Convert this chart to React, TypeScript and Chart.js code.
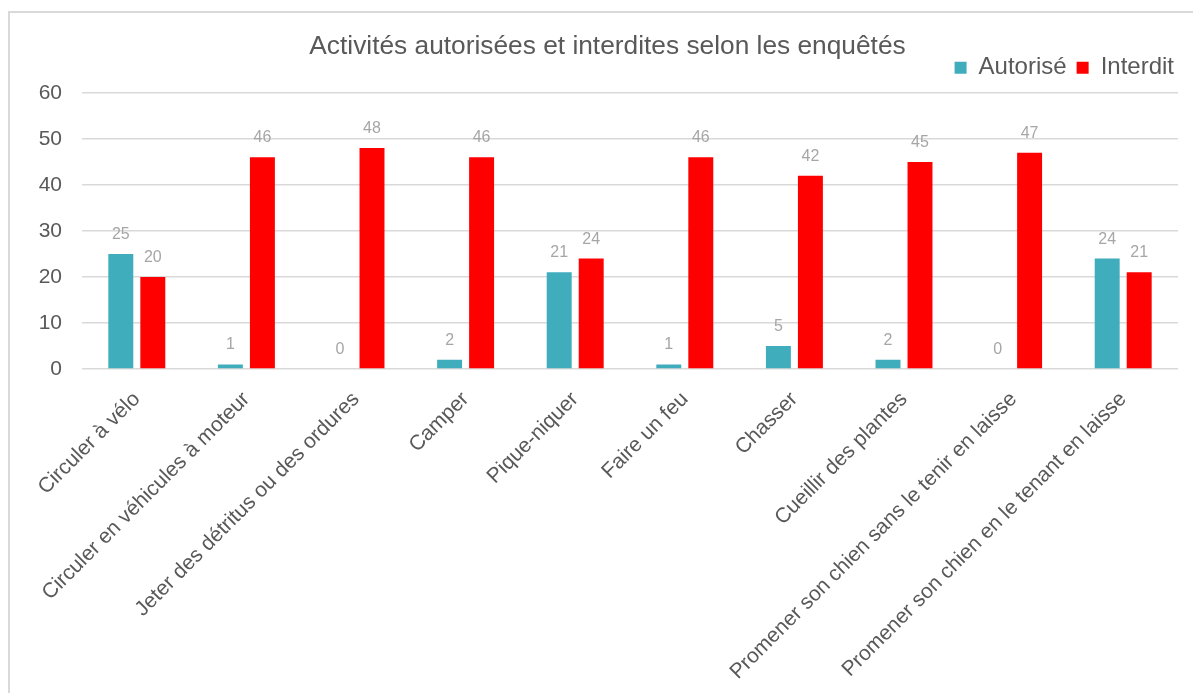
import React, { useEffect, useRef } from 'react';
import { Chart, registerables } from 'chart.js';

Chart.register(...registerables);

const chartTitle = 'Activités autorisées et interdites selon les enquêtés';
const categories = [
  'Circuler à vélo',
  'Circuler en véhicules à moteur',
  'Jeter des détritus ou des ordures',
  'Camper',
  'Pique-niquer',
  'Faire un feu',
  'Chasser',
  'Cueillir des plantes',
  'Promener son chien sans le tenir en laisse',
  'Promener son chien en le tenant en laisse',
];
const seriesNames = ['Autorisé', 'Interdit'];
const autorise = [25, 1, 0, 2, 21, 1, 5, 2, 0, 24];
const interdit = [20, 46, 48, 46, 24, 46, 42, 45, 47, 21];
const yTicks = [0, 10, 20, 30, 40, 50, 60];

const FONT = "'Liberation Sans', Arial, Helvetica, sans-serif";
const TEAL = '#40ADBD';
const RED = '#FF0000';
const TEXT = '#595959';
const GRID = '#d9d9d9';

const valueLabels = {
  id: 'valueLabels',
  afterDatasetsDraw(chart: any) {
    const ctx = chart.ctx;
    ctx.save();
    ctx.font = `16px ${FONT}`;
    ctx.fillStyle = '#a6a6a6';
    ctx.textAlign = 'center';
    ctx.textBaseline = 'alphabetic';
    chart.data.datasets.forEach((ds: any, i: number) => {
      const meta = chart.getDatasetMeta(i);
      meta.data.forEach((el: any, j: number) => {
        ctx.fillText(String(ds.data[j]), el.x, el.y - 15);
      });
    });
    ctx.restore();
  },
};

export default function App() {
  const ref = useRef<HTMLCanvasElement | null>(null);

  useEffect(() => {
    if (!ref.current) return;
    const chart = new Chart(ref.current, {
      type: 'bar',
      data: {
        labels: categories,
        datasets: [
          {
            label: seriesNames[0],
            data: autorise,
            backgroundColor: TEAL,
            borderWidth: 0,
            categoryPercentage: 0.584,
            barPercentage: 0.78,
          },
          {
            label: seriesNames[1],
            data: interdit,
            backgroundColor: RED,
            borderWidth: 0,
            categoryPercentage: 0.584,
            barPercentage: 0.78,
          },
        ],
      },
      options: {
        responsive: false,
        animation: false,
        layout: { padding: { top: 45.7, left: 31, right: 9, bottom: 0 } },
        plugins: {
          title: {
            display: true,
            text: chartTitle,
            color: TEXT,
            weight: 2000,
            font: { family: FONT, size: 26.3, weight: 'normal', lineHeight: 1.2 },
            padding: { top: -58.5, bottom: 30.1 },
          },
          legend: {
            display: true,
            position: 'top',
            align: 'end',
            weight: 3000,
            labels: {
              color: TEXT,
              font: { family: FONT, size: 24 },
              boxWidth: 12,
              boxHeight: 12,
              padding: 10,
            },
          },
          tooltip: { enabled: false },
        },
        scales: {
          x: {
            grid: { display: false, drawTicks: false },
            border: { display: false },
            ticks: {
              color: TEXT,
              font: { family: FONT, size: 21 },
              autoSkip: false,
              maxRotation: 45,
              minRotation: 45,
              padding: 18,
            },
            afterFit(scale: any) {
              scale.height = 324;
            },
          },
          y: {
            min: 0,
            max: 60,
            grid: { color: GRID, lineWidth: 1.5, drawTicks: false },
            border: { display: false },
            ticks: {
              color: TEXT,
              font: { family: FONT, size: 21 },
              padding: 20,
            },
            afterBuildTicks(scale: any) {
              scale.ticks = yTicks.map((v) => ({ value: v }));
            },
            afterFit(scale: any) {
              scale.width = 51;
            },
          },
          y2: {
            position: 'right',
            display: true,
            grid: { display: false, drawTicks: false },
            border: { display: false },
            ticks: { display: false },
            afterFit(scale: any) {
              scale.width = 6;
            },
          },
        },
      },
      plugins: [valueLabels],
    } as any);
    return () => chart.destroy();
  }, []);

  return (
    <div
      style={{
        position: 'fixed',
        left: 0,
        top: 0,
        width: 1193,
        height: 693,
        overflow: 'hidden',
        background: '#ffffff',
      }}
    >
      <div
        style={{
          position: 'absolute',
          left: 8,
          top: 11,
          width: 2000,
          height: 2000,
          borderLeft: `2px solid ${GRID}`,
          borderTop: `2px solid ${GRID}`,
        }}
      />
      <canvas
        ref={ref}
        width={1193}
        height={693}
        style={{ position: 'absolute', left: 0, top: 0, width: 1193, height: 693 }}
      />
    </div>
  );
}
